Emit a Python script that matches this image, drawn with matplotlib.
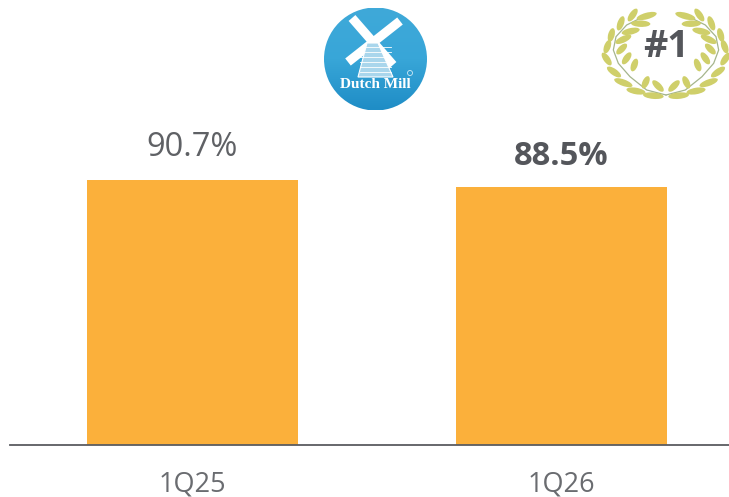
import numpy as np
import matplotlib
matplotlib.use("Agg")
import matplotlib.pyplot as plt
from matplotlib.patches import Circle, Ellipse, Polygon

categories = ["1Q25", "1Q26"]
values = [90.7, 88.5]
value_labels = ["90.7%", "88.5%"]
label_weights = ["normal", "bold"]

# laurel leaves, left branch: centre x, centre y, length, angle (zoom pixels / 3 + offset)
leaves_x = [170, 152, 122, 128, 92, 64, 100, 52, 95, 50, 110, 72, 133, 100, 167, 138, 204, 190]
leaves_y = [48, 71, 94, 45, 70, 105, 118, 140, 147, 177, 175, 216, 195, 248, 247, 273, 258, 287]
leaves_len = [62, 58, 55, 45, 45, 42, 52, 42, 42, 45, 42, 50, 40, 58, 40, 58, 45, 62]
leaves_ang = [-15, 2, -12, -55, -70, -75, -25, -70, -45, 55, -55, 35, -70, 20, -65, 10, 45, 5]

GREY = "#5f6165"
DARK = "#54565b"
plt.rcParams["font.family"] = ["Open Sans", "DejaVu Sans"]

fig = plt.figure(figsize=(7.29, 4.97), dpi=100)
ax = fig.add_axes([10 / 729, 52 / 497, 719 / 729, 445 / 497])
ax.bar(range(2), values, width=0.572, color="#fbb03b")
ax.set_xlim(-0.4946, 1.454)
ax.set_ylim(0, 152.4)
for s in ["top", "left", "right"]:
    ax.spines[s].set_visible(False)
ax.spines["bottom"].set_color("#5a5c60")
ax.spines["bottom"].set_linewidth(1.3)
ax.set_yticks([])
ax.set_xticks(range(2))
ax.set_xticklabels(categories, fontsize=19.5, color="#6a6c70")
ax.tick_params(axis="x", length=0, pad=18)
for i in range(2):
    ax.text(i, values[i] + (5.6 if i == 0 else 4.6), value_labels[i], ha="center", va="bottom",
            fontsize=23.5, color=DARK if i == 1 else GREY,
            fontweight=label_weights[i])

# overlay in pixel coords for the logo and the laurel
ov = fig.add_axes([0, 0, 1, 1])
ov.set_xlim(0, 729)
ov.set_ylim(497, 0)
ov.axis("off")
ov.patch.set_alpha(0)

# logo
grad = np.linspace(0, 1, 100).reshape(-1, 1)
im = ov.imshow(grad, extent=(323, 428, 110, 8), aspect="auto", zorder=2,
               cmap=matplotlib.colors.LinearSegmentedColormap.from_list(
                   "logo", ["#3fa9d9", "#38a6d8", "#1f8dc6"]))
im.set_clip_path(Circle((375.5, 59), 51.5, transform=ov.transData))
ov.set_xlim(0, 729)
ov.set_ylim(497, 0)
ov.plot([352, 393], [18, 65], color="white", lw=6.5, zorder=3, solid_capstyle="butt")
ov.plot([400, 348], [21, 62], color="white", lw=6.5, zorder=3, solid_capstyle="butt")
ov.add_patch(Polygon([[367, 43], [378, 43], [393, 77], [358, 77]], closed=True,
                     fc="#a9d6ec", ec="white", lw=0.8, zorder=3))
for yy in range(47, 77, 5):
    ov.plot([360, 391], [yy, yy], color="white", lw=0.6, zorder=4)
ov.text(375, 85, "Dutch Mill", ha="center", va="center", fontsize=11, color="white",
        fontweight="bold", family="Liberation Serif", zorder=4)
ov.add_patch(Circle((410, 73), 2.5, fc="none", ec="#cfe9f5", lw=0.6, zorder=4))

# laurel
for side in [-1, 1]:
    for x, y, l, a in zip(leaves_x, leaves_y, leaves_len, leaves_ang):
        px = 590 + x / 3
        py = y / 3
        if side == 1:
            px = 2 * 666 - px
        ov.add_patch(Ellipse((px, py), l / 3, 6.5, angle=a * -side, fc="#cfcf6a", ec="none", zorder=3))
    sx = np.array([228, 170, 120, 85, 70, 78, 110, 150])
    sy = np.array([285, 270, 230, 190, 150, 110, 75, 55])
    px = 590 + sx / 3
    if side == 1:
        px = 2 * 666 - px
    ov.plot(px, sy / 3, color="#a5b58c", lw=0.9, zorder=2)
ov.text(666, 47, "#1", ha="center", va="center", fontsize=27, fontweight="bold", color=DARK, zorder=4)

fig.savefig("out.png", dpi=100)
